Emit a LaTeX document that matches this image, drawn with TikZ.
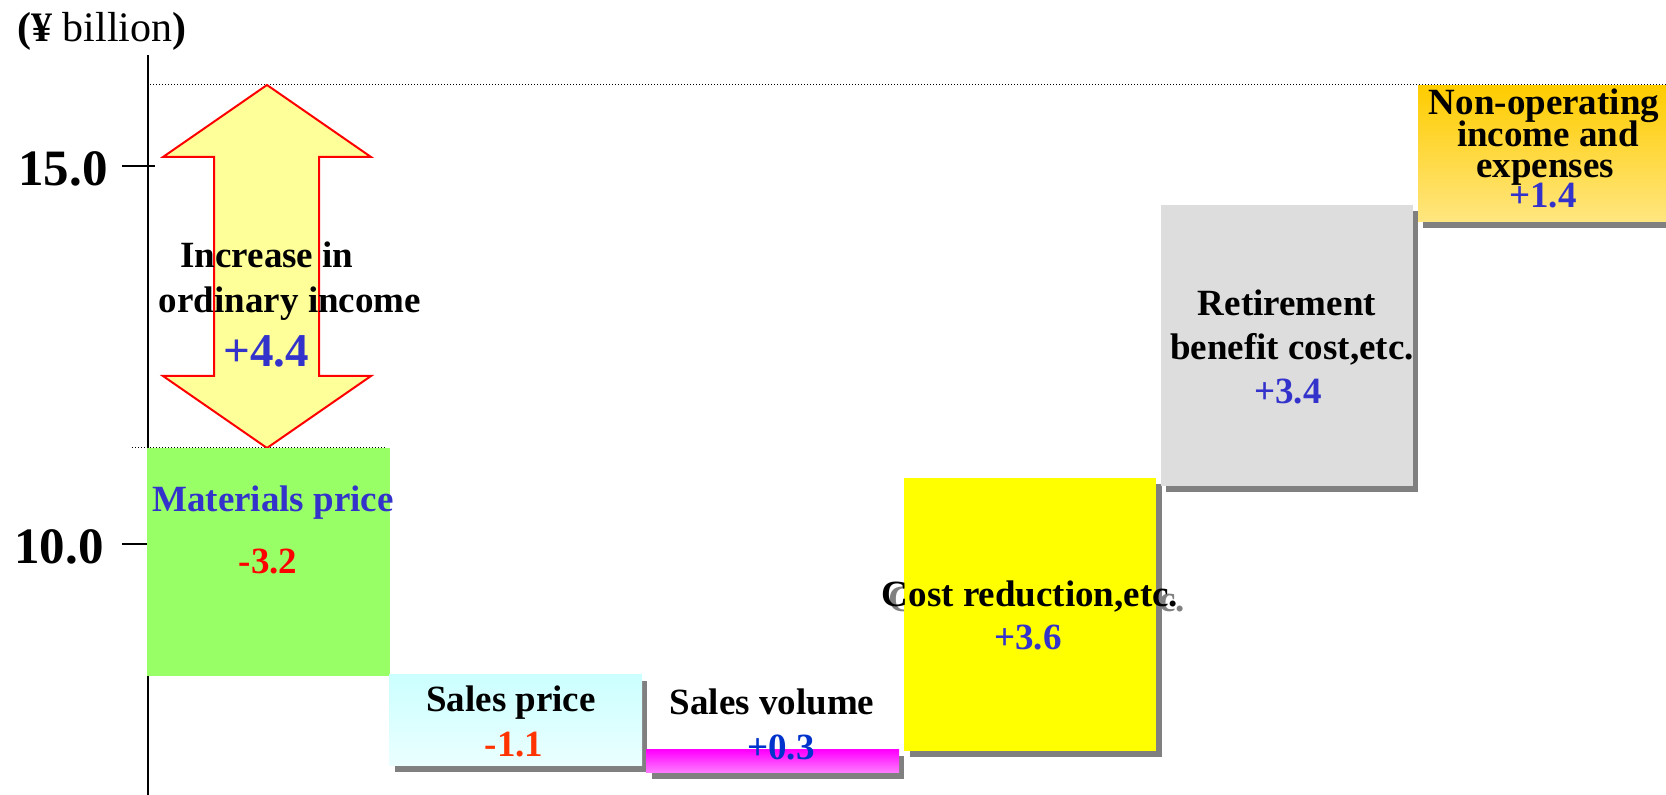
\documentclass[tikz,border=0pt]{standalone}
\usepackage{fontspec}
\setmainfont{Liberation Serif}
\usetikzlibrary{shadings}
\definecolor{matgreen}{HTML}{99FF66}
\definecolor{arrowfill}{HTML}{FFFF99}
\definecolor{valblue}{HTML}{3333CC}
\definecolor{volblue}{HTML}{0033CC}
\definecolor{minusred}{HTML}{FF0000}
\definecolor{priceorange}{HTML}{FF3300}
\definecolor{shadowgray}{HTML}{808080}
\definecolor{retgray}{HTML}{DDDDDD}
\definecolor{costyellow}{HTML}{FFFF00}

\begin{document}
\begin{tikzpicture}[x=0.5pt, y=-0.5pt,
    lbl/.style={font=\bfseries\fontsize{18.5}{22}\selectfont, anchor=base, inner sep=0pt},
    val/.style={lbl, text=valblue},
    shadowbox/.style={fill=shadowgray},
    dotline/.style={line width=0.5pt, dash pattern=on 0.5pt off 1pt}]
    \useasboundingbox (0,0) rectangle (1666,795);

    % axis and ticks
    \draw[line width=1pt] (148,55) -- (148,795);
    \draw[line width=1pt] (122,166) -- (155,166);
    \draw[line width=1pt] (122,544) -- (155,544);
    \node[anchor=base west, inner sep=0pt, font=\bfseries\fontsize{25.5}{30}\selectfont] (t15) at (18,186) {15.0};
    \node[anchor=base west, inner sep=0pt, font=\bfseries\fontsize{25.5}{30}\selectfont] (t10) at (14,564) {10.0};
    \node[anchor=base west, inner sep=0pt, font=\fontsize{21}{25}\selectfont] (unit) at (17,42) {\textbf{(¥} billion\textbf{)}};

    % reference lines
    \draw[dotline] (150,85) -- (1666,85);
    \draw[dotline] (132,448) -- (387,448);

    % double arrow
    \draw[draw=red, line width=1pt, fill=arrowfill]
      (267,85) -- (371,157) -- (319,157) -- (319,376) -- (371,376) -- (267,448)
      -- (163,376) -- (214,376) -- (214,157) -- (163,157) -- cycle;
    \node[lbl] (incA) at (267,268) {Increase in};
    \node[lbl] (incB) at (290,313) {ordinary income};
    \node[val, font=\bfseries\fontsize{23.5}{28}\selectfont] (incV) at (266,367) {+4.4};

    % materials price
    \fill[matgreen] (147,448) rectangle (390,676);
    \node[lbl, text=valblue] (matA) at (273,512) {Materials price};
    \node[lbl, text=minusred] (matV) at (268,574) {-3.2};

    % sales price
    \fill[shadowbox] (395,681) rectangle (647,772);
    \shade[top color=cyan!20, bottom color=cyan!8] (389,675) rectangle (642,766);
    \node[lbl] (spA) at (511,712) {Sales price};
    \node[lbl, text=priceorange] (spV) at (514,757) {-1.1};

    % sales volume
    \fill[shadowbox] (652,756) rectangle (904,779);
    \shade[top color=magenta, bottom color=magenta!50] (646,750) rectangle (899,773);
    \node[lbl] (svA) at (772,715) {Sales volume};
    \node[lbl, text=volblue] (svV) at (781,760) {+0.3};

    % cost reduction (grey text copy sits behind the box)
    \node[lbl, text=shadowgray] (crS) at (1037,612) {Cost reduction,etc.};
    \fill[shadowbox] (910,484) rectangle (1162,757);
    \fill[costyellow] (904,478) rectangle (1156,751);
    \node[lbl] (crA) at (1030,607) {Cost reduction,etc.};
    \node[val] (crV) at (1028,650) {+3.6};

    % retirement benefit
    \fill[shadowbox] (1166,211) rectangle (1418,492);
    \fill[retgray] (1161,205) rectangle (1413,486);
    \node[lbl] (rbA) at (1287,316) {Retirement};
    \node[lbl] (rbB) at (1292,360) {benefit cost,etc.};
    \node[val] (rbV) at (1288,404) {+3.4};

    % non-operating
    \fill[shadowbox] (1423,92) rectangle (1676,228);
    \shade[top color={rgb,255:red,255;green,204;blue,0}, bottom color={rgb,255:red,255;green,230;blue,128}]
      (1418,86) rectangle (1670,222);
    \node[lbl] (noA) at (1544,115) {Non-operating};
    \node[lbl] (noB) at (1548,147) {income and};
    \node[lbl] (noC) at (1545,178) {expenses};
    \node[val] (noV) at (1543,208) {+1.4};
\end{tikzpicture}
\end{document}
